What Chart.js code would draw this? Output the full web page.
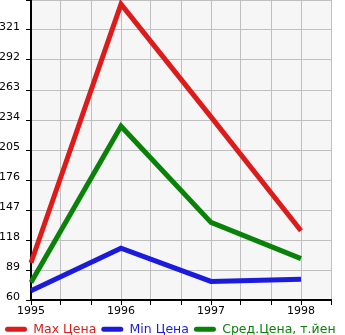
<!DOCTYPE html>
<html>
<head>
<meta charset="utf-8">
<script src="https://cdn.jsdelivr.net/npm/chart.js@4/dist/chart.umd.min.js"></script>
<style>
  html, body { margin: 0; padding: 0; background: #fff; }
  #wrap { width: 345px; height: 335px; }
</style>
</head>
<body>
<div id="wrap"><canvas id="chart" width="345" height="335"></canvas></div>
<script>
const years = [1995, 1996, 1997, 1998];
const maxPrice = [96, 346, 237, 127];
const minPrice = [69, 110, 78, 80];
const avgPrice = [77, 228, 135, 100];
const seriesNames = ['Max Цена', 'Min Цена', 'Сред.Цена, т.йен'];
const seriesColors = ['#dd1b1b', '#1b1bdd', '#0a820a'];
const yTicks = [60, 89, 118, 147, 176, 205, 234, 263, 292, 321, 350];

function toPoints(values) {
    return values.map((v, i) => ({ x: years[i], y: v }));
}

const plotBackground = {
    id: 'plotBackground',
    beforeDraw(chart) {
        const a = chart.chartArea;
        const ctx = chart.ctx;
        ctx.save();
        ctx.fillStyle = '#f6f6f6';
        ctx.fillRect(a.left, a.top, a.right - a.left, a.bottom - a.top);
        ctx.restore();
    }
};

const allSeries = [maxPrice, minPrice, avgPrice];

new Chart(document.getElementById('chart').getContext('2d'), {
    type: 'line',
    data: {
        datasets: allSeries.map((values, i) => ({
            label: seriesNames[i],
            data: toPoints(values),
            borderColor: seriesColors[i],
            backgroundColor: seriesColors[i],
            borderWidth: 5,
            pointRadius: 0,
            tension: 0,
            clip: false
        }))
    },
    options: {
        responsive: false,
        animation: false,
        layout: { padding: 0 },
        plugins: {
            tooltip: { enabled: false },
            legend: {
                position: 'bottom',
                align: 'start',
                maxHeight: 17,
                labels: {
                    boxWidth: 22,
                    boxHeight: 5,
                    padding: 5,
                    useBorderRadius: true,
                    borderRadius: 2.5,
                    font: { family: 'DejaVu Sans', size: 12.5, lineHeight: 1 },
                    generateLabels(chart) {
                        return chart.data.datasets.map((ds, i) => ({
                            text: ds.label,
                            fillStyle: ds.borderColor,
                            strokeStyle: ds.borderColor,
                            lineWidth: 0,
                            fontColor: ds.borderColor,
                            borderRadius: 2.5,
                            datasetIndex: i
                        }));
                    }
                }
            }
        },
        scales: {
            x: {
                type: 'linear',
                min: years[0],
                max: years[years.length - 1] + 1 / 3,
                afterBuildTicks(scale) {
                    const ticks = [];
                    for (let i = 0; i <= 10; i++) ticks.push({ value: years[0] + i / 3 });
                    scale.ticks = ticks;
                },
                afterFit(scale) { scale.height = 18; },
                ticks: {
                    autoSkip: false,
                    maxRotation: 0,
                    padding: 0,
                    color: '#000',
                    font: { family: 'DejaVu Sans', size: 11 },
                    callback(v) {
                        const r = Math.round(v);
                        return Math.abs(v - r) < 1e-6 && years.includes(r) ? String(r) : '';
                    }
                },
                grid: { color: '#c0c0c0', lineWidth: 1, tickColor: '#000', tickLength: 5 },
                border: { color: '#000', width: 2 }
            },
            y: {
                min: yTicks[0],
                max: yTicks[yTicks.length - 1],
                afterBuildTicks(scale) {
                    scale.ticks = yTicks.map(v => ({ value: v }));
                },
                afterFit(scale) {
                    scale.width = 31;
                    scale.paddingTop = 0;
                    scale.paddingBottom = 0;
                },
                ticks: {
                    autoSkip: false,
                    padding: 6,
                    labelOffset: -3,
                    color: '#000',
                    font: { family: 'DejaVu Sans', size: 11 },
                    callback(v) { return v === yTicks[yTicks.length - 1] ? '' : String(v); }
                },
                grid: { color: '#c0c0c0', lineWidth: 1, tickColor: '#000', tickLength: 5 },
                border: { color: '#000', width: 2 }
            },
            yRight: {
                position: 'right',
                min: yTicks[0],
                max: yTicks[yTicks.length - 1],
                afterFit(scale) {
                    scale.width = 14;
                    scale.paddingTop = 0;
                    scale.paddingBottom = 0;
                },
                ticks: { display: false },
                grid: { display: false, drawTicks: false },
                border: { display: false }
            }
        }
    },
    plugins: [plotBackground]
});
</script>
</body>
</html>
